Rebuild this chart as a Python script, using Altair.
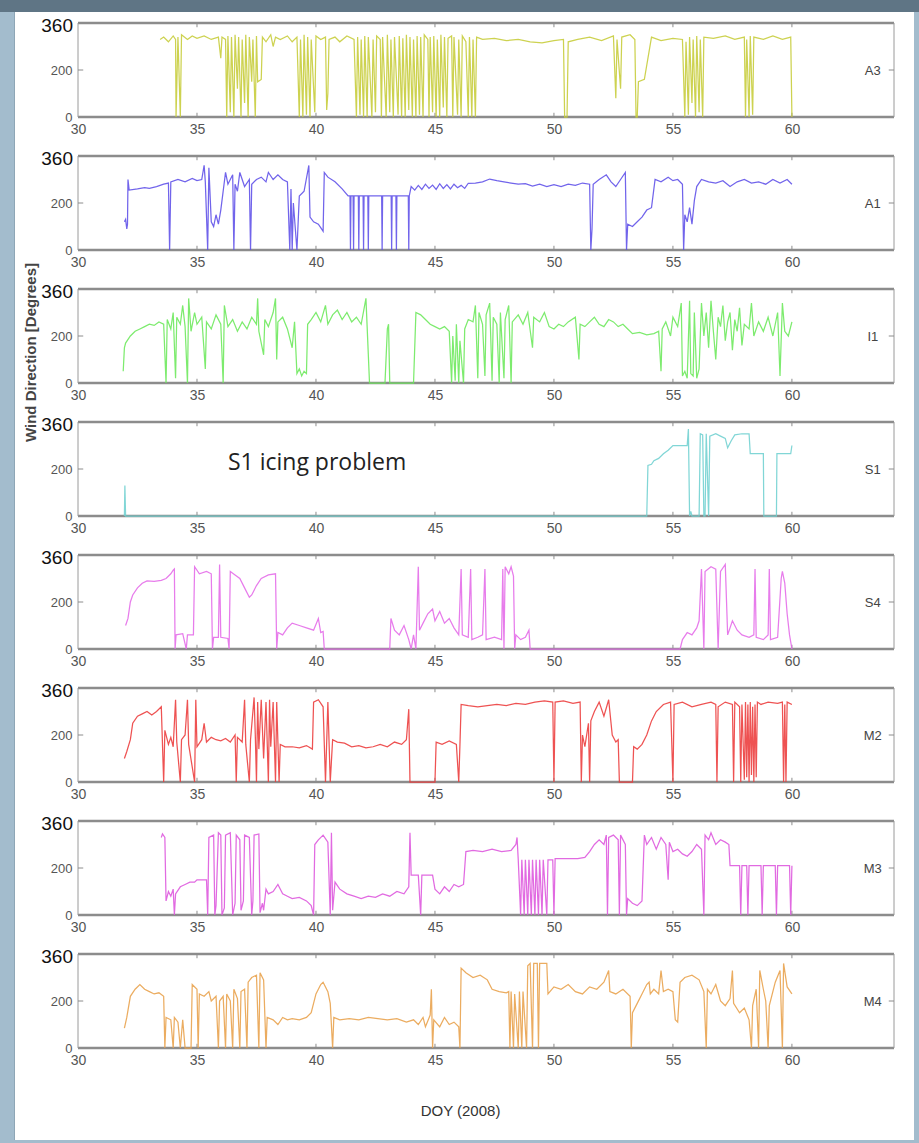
import altair as alt
import pandas as pd

# ---------------- axis values ----------------
X_DOMAIN = [30, 64.29]
Y_DOMAIN = [0, 400]
X_TICKS = [30, 35, 40, 45, 50, 55, 60]
INNER_X_TICKS = [35, 40, 45, 50, 55, 60]
Y_TICKS = [0, 200]
TOP_LABEL = "360"

SERIES_NAMES = ["A3", "A1", "I1", "S1", "S4", "M2", "M3", "M4"]
SERIES_COLORS = ["#c6cc38", "#5d4ee8", "#6be85a", "#6fd0d0",
                 "#e46ae8", "#ec3a3a", "#dd55dd", "#e8a04a"]

# ---------------- series (DOY, wind direction in degrees) ----------------
A3 = [(33.45,330),(33.6,340),(33.8,320),(34.0,345),(34.1,330),(34.12,0),(34.2,340),(34.3,0),(34.35,350),(34.6,330),(34.8,345),(35.0,335),(35.3,345),(35.6,330),(35.9,340),(36.0,250),(36.05,340),(36.2,330),(36.25,0),(36.3,345),(36.4,20),(36.45,340),(36.55,0),(36.6,350),(36.7,120),(36.75,340),(36.85,0),(36.9,330),(37.0,60),(37.05,350),(37.15,0),(37.2,340),(37.3,150),(37.35,330),(37.45,0),(37.5,345),(37.55,150),(37.7,160),(37.75,340),(37.9,320),(38.1,350),(38.2,300),(38.3,340),(38.5,330),(38.8,345),(39.0,320),(39.2,340),(39.3,0),(39.35,330),(39.45,0),(39.5,350),(39.6,10),(39.65,340),(39.75,0),(39.8,330),(39.95,20),(40.0,345),(40.2,330),(40.4,340),(40.45,30),(40.5,100),(40.55,330),(40.8,340),(41.0,320),(41.3,345),(41.6,330),(41.7,0),(41.75,340),(41.85,10),(41.9,330),(42.0,0),(42.05,345),(42.15,0),(42.2,340),(42.35,0),(42.4,330),(42.5,20),(42.55,345),(42.7,330),(42.75,0),(42.8,340),(42.95,0),(43.0,350),(43.1,20),(43.15,330),(43.25,0),(43.3,340),(43.45,10),(43.5,345),(43.6,0),(43.65,335),(43.75,0),(43.8,350),(43.9,30),(43.95,340),(44.05,0),(44.1,330),(44.2,0),(44.25,345),(44.35,10),(44.4,340),(44.5,0),(44.55,350),(44.7,330),(44.75,0),(44.8,340),(44.9,20),(44.95,345),(45.05,0),(45.1,330),(45.2,0),(45.25,350),(45.35,40),(45.4,340),(45.5,0),(45.55,335),(45.7,345),(45.75,0),(45.8,340),(45.95,10),(46.0,330),(46.1,0),(46.15,345),(46.3,320),(46.4,0),(46.45,340),(46.55,0),(46.6,330),(46.7,0),(46.75,340),(47.0,330),(47.5,335),(48.0,325),(48.5,330),(49.0,320),(49.5,315),(50.0,325),(50.4,330),(50.45,0),(50.55,0),(50.6,320),(51.0,330),(51.5,340),(52.0,325),(52.5,345),(52.6,80),(52.65,330),(52.8,120),(52.85,340),(53.2,350),(53.4,330),(53.45,0),(53.5,0),(53.55,150),(53.8,160),(54.1,340),(54.5,325),(55.0,335),(55.4,330),(55.5,0),(55.55,320),(55.65,10),(55.7,340),(55.8,60),(55.85,330),(55.95,0),(56.0,345),(56.1,20),(56.15,330),(56.25,0),(56.3,340),(56.7,335),(57.2,345),(57.6,330),(58.0,340),(58.05,0),(58.1,330),(58.2,0),(58.25,345),(58.35,10),(58.4,340),(58.8,330),(59.2,345),(59.6,330),(59.95,340),(60.0,0)]

A1 = [(31.95,120),(32.0,130),(32.05,90),(32.08,110),(32.1,300),(32.15,255),(32.5,260),(32.8,265),(33.0,262),(33.3,270),(33.6,280),(33.8,285),(33.85,0),(33.9,290),(34.2,300),(34.5,290),(34.8,305),(35.0,295),(35.2,300),(35.3,360),(35.35,290),(35.45,0),(35.5,350),(35.6,120),(35.7,100),(35.8,150),(35.9,110),(36.0,170),(36.1,250),(36.2,330),(36.3,280),(36.4,300),(36.5,320),(36.55,0),(36.6,280),(36.7,250),(36.8,330),(37.0,270),(37.2,300),(37.25,0),(37.3,280),(37.5,300),(37.7,310),(37.9,290),(38.0,330),(38.2,300),(38.4,320),(38.6,300),(38.8,290),(38.9,0),(38.95,260),(39.0,0),(39.05,200),(39.2,0),(39.3,230),(39.5,250),(39.7,360),(39.75,140),(39.9,120),(40.1,110),(40.3,80),(40.35,330),(40.5,310),(40.8,290),(41.1,260),(41.35,230),(41.43,230),(41.45,0),(41.47,230),(41.56,230),(41.58,0),(41.6,230),(41.78,230),(41.8,0),(41.82,230),(41.98,230),(42.0,0),(42.02,230),(42.18,230),(42.2,0),(42.22,230),(42.76,230),(42.78,0),(42.8,230),(43.16,230),(43.18,0),(43.2,230),(43.36,230),(43.38,0),(43.4,230),(43.88,230),(43.9,0),(43.92,230),(44.0,270),(44.15,255),(44.3,275),(44.45,258),(44.6,280),(44.75,262),(44.9,276),(45.05,258),(45.2,282),(45.35,262),(45.5,278),(45.65,260),(45.8,280),(45.95,265),(46.1,275),(46.25,262),(46.4,284),(46.7,285),(47.0,290),(47.3,302),(47.6,295),(47.9,290),(48.2,285),(48.5,280),(48.8,282),(49.1,272),(49.4,280),(49.7,270),(50.0,278),(50.3,270),(50.6,280),(50.9,275),(51.2,285),(51.5,280),(51.55,0),(51.6,90),(51.65,280),(51.9,300),(52.2,320),(52.4,290),(52.6,270),(52.8,300),(53.0,330),(53.05,0),(53.1,110),(53.3,100),(53.5,120),(53.7,140),(53.9,170),(54.1,180),(54.25,300),(54.5,290),(54.8,310),(55.0,295),(55.2,300),(55.4,280),(55.45,0),(55.5,150),(55.6,120),(55.7,180),(55.8,110),(55.9,210),(56.0,270),(56.2,300),(56.5,290),(56.8,285),(57.1,295),(57.4,270),(57.7,290),(58.0,300),(58.3,285),(58.6,290),(58.9,280),(59.2,300),(59.5,285),(59.8,300),(60.0,280)]

I1 = [(31.9,50),(31.95,150),(32.0,170),(32.2,200),(32.4,220),(32.6,230),(32.8,240),(33.0,250),(33.2,245),(33.4,260),(33.6,250),(33.7,0),(33.75,270),(33.9,230),(34.0,300),(34.1,20),(34.15,280),(34.3,250),(34.4,330),(34.5,240),(34.6,0),(34.65,360),(34.75,220),(34.9,300),(35.0,250),(35.2,280),(35.35,60),(35.4,260),(35.6,230),(35.8,290),(36.0,250),(36.1,0),(36.15,330),(36.3,240),(36.5,270),(36.7,220),(36.9,260),(37.1,230),(37.3,280),(37.5,250),(37.55,360),(37.6,220),(37.8,120),(37.85,270),(38.0,240),(38.2,300),(38.3,360),(38.35,100),(38.4,260),(38.6,280),(38.8,230),(39.0,150),(39.1,260),(39.2,40),(39.3,60),(39.4,30),(39.5,50),(39.6,40),(39.65,250),(39.8,270),(40.0,300),(40.2,260),(40.4,330),(40.5,250),(40.7,290),(40.9,310),(41.1,270),(41.3,300),(41.5,260),(41.7,280),(41.9,250),(42.1,360),(42.15,240),(42.25,0),(42.4,0),(42.6,0),(42.9,0),(43.0,230),(43.05,250),(43.1,0),(43.3,0),(43.6,0),(43.9,0),(44.1,0),(44.2,300),(44.4,290),(44.6,270),(44.8,250),(45.0,240),(45.2,230),(45.4,240),(45.6,220),(45.7,0),(45.75,200),(45.85,10),(45.9,250),(46.0,0),(46.05,180),(46.2,0),(46.25,230),(46.4,270),(46.6,260),(46.7,330),(46.8,20),(46.85,300),(47.0,250),(47.1,30),(47.15,290),(47.3,340),(47.4,10),(47.45,280),(47.6,250),(47.7,0),(47.75,300),(47.9,20),(47.95,270),(48.1,330),(48.2,0),(48.25,260),(48.5,290),(48.7,250),(48.9,300),(49.1,150),(49.15,280),(49.4,260),(49.6,300),(49.8,240),(50.0,230),(50.2,250),(50.4,240),(50.6,260),(50.9,280),(51.05,100),(51.1,250),(51.3,240),(51.5,260),(51.7,280),(51.9,250),(52.1,240),(52.3,270),(52.5,260),(52.7,240),(52.9,250),(53.1,230),(53.3,210),(53.6,215),(53.9,205),(54.2,210),(54.4,220),(54.5,50),(54.55,230),(54.7,260),(54.9,200),(55.0,280),(55.2,240),(55.35,340),(55.4,30),(55.5,50),(55.6,20),(55.7,350),(55.75,40),(55.85,30),(55.9,300),(56.0,20),(56.1,60),(56.2,340),(56.3,200),(56.4,300),(56.5,150),(56.6,350),(56.7,220),(56.8,100),(56.9,280),(57.0,240),(57.1,330),(57.2,180),(57.3,260),(57.4,300),(57.5,140),(57.6,270),(57.7,220),(57.8,320),(57.9,160),(58.0,250),(58.2,230),(58.3,340),(58.4,200),(58.6,260),(58.8,220),(59.0,280),(59.2,200),(59.4,300),(59.5,30),(59.6,340),(59.7,220),(59.85,200),(60.0,260)]

S1 = [(31.95,0),(31.97,130),(32.0,0),(35.0,0),(40.0,0),(45.0,0),(50.0,0),(53.9,0),(53.95,215),(54.1,220),(54.2,235),(54.4,245),(54.6,265),(54.8,280),(55.0,300),(55.3,300),(55.6,300),(55.65,370),(55.7,0),(55.75,20),(55.8,0),(56.1,0),(56.15,350),(56.25,345),(56.3,0),(56.35,0),(56.4,350),(56.5,0),(56.55,340),(56.8,350),(57.0,340),(57.2,330),(57.3,290),(57.45,320),(57.6,345),(57.9,350),(58.2,350),(58.25,265),(58.8,265),(58.82,0),(59.35,0),(59.37,265),(59.95,265),(60.0,300)]

S4 = [(32.0,100),(32.1,130),(32.2,200),(32.3,230),(32.5,260),(32.7,280),(32.9,290),(33.2,288),(33.5,292),(33.7,300),(33.9,320),(34.0,335),(34.05,340),(34.08,0),(34.12,60),(34.4,65),(34.55,0),(34.6,60),(34.85,60),(34.9,350),(35.1,320),(35.4,330),(35.6,320),(35.65,0),(35.7,50),(35.9,50),(35.95,360),(36.0,50),(36.3,45),(36.35,0),(36.4,330),(36.6,315),(36.8,300),(37.0,260),(37.2,220),(37.3,230),(37.5,270),(37.7,300),(38.0,315),(38.3,320),(38.35,0),(38.4,70),(38.6,60),(38.8,90),(39.0,110),(39.3,100),(39.6,90),(39.9,80),(40.1,130),(40.2,70),(40.3,75),(40.35,0),(41.0,0),(43.1,0),(43.15,130),(43.3,80),(43.5,60),(43.7,100),(43.9,40),(44.0,0),(44.1,60),(44.2,0),(44.3,350),(44.35,80),(44.5,110),(44.7,150),(44.9,170),(45.0,120),(45.2,160),(45.4,110),(45.6,130),(45.8,90),(46.0,60),(46.1,340),(46.15,60),(46.4,50),(46.5,340),(46.55,40),(46.8,50),(47.0,60),(47.1,340),(47.15,40),(47.5,50),(47.8,40),(47.85,340),(47.9,0),(47.95,350),(48.1,320),(48.2,350),(48.3,310),(48.35,0),(48.4,60),(48.6,40),(48.8,50),(48.95,80),(49.0,0),(50.0,0),(55.3,0),(55.4,40),(55.6,70),(55.8,60),(56.0,90),(56.1,120),(56.2,340),(56.3,0),(56.35,330),(56.6,350),(56.8,340),(56.9,0),(57.0,330),(57.2,360),(57.3,60),(57.5,120),(57.7,80),(57.9,60),(58.2,50),(58.4,60),(58.45,340),(58.5,50),(58.8,40),(59.0,60),(59.05,340),(59.1,40),(59.4,50),(59.55,300),(59.6,330),(59.7,280),(59.8,150),(59.9,60),(60.0,0)]

M2 = [(31.95,100),(32.05,130),(32.2,180),(32.3,250),(32.5,280),(32.7,290),(32.9,300),(33.1,285),(33.3,300),(33.5,320),(33.6,0),(33.65,220),(33.8,160),(33.9,190),(34.0,150),(34.1,350),(34.15,170),(34.3,0),(34.35,180),(34.5,200),(34.6,350),(34.65,160),(34.9,0),(34.95,350),(35.0,150),(35.2,180),(35.3,250),(35.4,170),(35.6,190),(35.8,180),(36.0,175),(36.2,185),(36.4,170),(36.6,200),(36.65,0),(36.7,190),(36.9,170),(37.0,350),(37.05,160),(37.2,0),(37.25,180),(37.4,360),(37.45,200),(37.5,0),(37.55,340),(37.6,140),(37.7,350),(37.8,100),(37.9,340),(38.0,0),(38.05,350),(38.1,150),(38.2,340),(38.3,0),(38.35,340),(38.45,0),(38.5,160),(38.7,150),(39.0,150),(39.3,145),(39.6,155),(39.85,140),(39.9,340),(40.1,350),(40.3,320),(40.4,0),(40.5,340),(40.6,0),(40.7,180),(40.9,170),(41.2,165),(41.5,150),(41.8,155),(42.1,145),(42.4,150),(42.7,160),(43.0,150),(43.3,170),(43.6,160),(43.8,180),(43.9,310),(43.95,0),(44.0,0),(44.5,0),(45.0,0),(45.05,170),(45.3,160),(45.6,175),(45.9,160),(46.0,0),(46.05,160),(46.1,330),(46.4,325),(46.8,320),(47.2,325),(47.6,330),(48.0,325),(48.4,335),(48.8,330),(49.2,340),(49.6,345),(49.95,340),(50.0,0),(50.05,340),(50.4,345),(50.8,335),(51.1,340),(51.15,0),(51.2,200),(51.3,150),(51.45,250),(51.5,0),(51.55,260),(51.7,300),(51.9,340),(52.1,280),(52.3,350),(52.45,200),(52.6,170),(52.7,180),(52.75,0),(53.0,0),(53.3,0),(53.35,150),(53.5,140),(53.7,160),(53.9,200),(54.1,260),(54.3,300),(54.6,330),(54.9,340),(55.0,0),(55.05,330),(55.4,340),(55.8,320),(56.2,330),(56.6,340),(56.8,330),(56.85,0),(56.9,320),(57.2,340),(57.5,330),(57.55,0),(57.6,340),(57.8,320),(57.85,0),(57.9,330),(58.0,10),(58.05,340),(58.1,20),(58.15,330),(58.2,0),(58.25,340),(58.3,30),(58.35,320),(58.4,0),(58.45,330),(58.5,20),(58.55,340),(58.7,330),(59.0,340),(59.4,335),(59.6,340),(59.65,0),(59.7,330),(59.75,0),(59.8,340),(60.0,330)]

M3 = [(33.5,330),(33.55,345),(33.65,330),(33.7,60),(33.8,100),(33.9,80),(34.0,110),(34.05,0),(34.1,90),(34.3,120),(34.5,130),(34.7,140),(34.9,140),(35.0,150),(35.4,150),(35.45,0),(35.5,330),(35.7,340),(35.75,0),(35.8,40),(35.9,350),(36.0,340),(36.05,0),(36.15,30),(36.2,340),(36.4,350),(36.5,0),(36.6,50),(36.65,340),(36.8,320),(36.85,20),(36.95,60),(37.0,340),(37.2,330),(37.3,0),(37.35,60),(37.4,340),(37.6,345),(37.65,10),(37.75,50),(37.8,20),(37.9,110),(38.0,90),(38.2,100),(38.4,130),(38.6,90),(38.8,80),(39.0,70),(39.3,75),(39.6,60),(39.8,40),(39.9,0),(39.95,300),(40.1,320),(40.3,340),(40.5,310),(40.6,0),(40.65,350),(40.7,20),(40.8,140),(41.0,110),(41.3,90),(41.6,80),(41.9,70),(42.2,80),(42.5,75),(42.8,90),(43.1,80),(43.4,100),(43.7,90),(43.9,120),(43.95,350),(44.0,170),(44.3,170),(44.4,0),(44.45,170),(44.9,170),(45.0,110),(45.2,90),(45.4,120),(45.6,100),(45.8,130),(46.0,120),(46.2,130),(46.3,270),(46.6,275),(47.0,270),(47.4,280),(47.8,270),(48.2,275),(48.4,300),(48.45,330),(48.5,235),(48.6,0),(48.65,235),(48.75,0),(48.8,235),(48.9,0),(48.95,235),(49.05,0),(49.1,235),(49.2,0),(49.25,235),(49.35,0),(49.4,235),(49.5,0),(49.55,235),(49.7,0),(49.75,235),(49.95,235),(50.0,0),(50.05,240),(50.5,240),(51.0,240),(51.3,245),(51.5,270),(51.7,300),(51.9,320),(52.1,300),(52.2,340),(52.25,0),(52.3,330),(52.5,340),(52.7,320),(52.75,0),(52.8,340),(53.0,300),(53.05,0),(53.1,70),(53.3,50),(53.5,40),(53.7,60),(53.8,340),(53.9,300),(54.1,330),(54.3,280),(54.5,330),(54.7,300),(54.8,150),(54.85,310),(55.0,270),(55.2,280),(55.4,260),(55.6,250),(55.8,270),(56.0,300),(56.2,280),(56.3,0),(56.35,340),(56.5,320),(56.6,350),(56.8,300),(57.0,320),(57.2,310),(57.35,300),(57.4,210),(57.8,210),(57.85,0),(57.9,210),(58.1,210),(58.15,0),(58.2,210),(58.7,210),(58.75,0),(58.8,210),(59.3,210),(59.35,0),(59.4,210),(59.9,210),(59.95,0),(60.0,210)]

M4 = [(31.95,85),(32.05,130),(32.2,220),(32.4,250),(32.6,270),(32.8,250),(33.0,240),(33.2,230),(33.4,235),(33.6,220),(33.65,0),(33.7,130),(33.9,120),(34.0,0),(34.05,130),(34.2,110),(34.3,0),(34.4,120),(34.5,0),(34.75,0),(34.8,270),(35.0,250),(35.05,0),(35.1,230),(35.3,220),(35.5,240),(35.6,200),(35.8,220),(35.9,0),(35.95,200),(36.1,220),(36.2,0),(36.25,230),(36.4,200),(36.5,0),(36.55,250),(36.7,210),(36.8,0),(36.85,240),(37.0,250),(37.1,0),(37.15,280),(37.3,300),(37.5,310),(37.6,0),(37.65,320),(37.8,290),(37.9,0),(37.95,130),(38.2,120),(38.4,100),(38.6,130),(38.8,120),(39.0,125),(39.3,120),(39.6,130),(39.8,150),(40.0,230),(40.2,270),(40.3,280),(40.5,240),(40.6,190),(40.7,0),(40.75,130),(41.0,120),(41.4,125),(41.8,120),(42.2,130),(42.6,125),(43.0,120),(43.4,125),(43.8,110),(44.1,120),(44.3,100),(44.5,130),(44.6,90),(44.8,140),(44.85,250),(44.9,0),(44.95,120),(45.2,90),(45.4,130),(45.6,100),(45.8,110),(46.0,90),(46.05,0),(46.1,340),(46.3,320),(46.6,300),(46.9,310),(47.2,290),(47.4,250),(47.7,240),(48.0,235),(48.1,240),(48.15,0),(48.2,240),(48.3,0),(48.35,230),(48.5,0),(48.55,240),(48.65,0),(48.7,240),(48.85,0),(48.9,350),(49.0,360),(49.1,0),(49.15,360),(49.3,360),(49.35,0),(49.4,360),(49.7,360),(49.75,230),(50.0,260),(50.3,250),(50.6,270),(50.9,240),(51.2,230),(51.5,260),(51.8,250),(52.1,280),(52.3,330),(52.35,240),(52.6,230),(52.9,250),(53.2,220),(53.25,0),(53.3,150),(53.5,190),(53.7,230),(53.9,270),(54.0,280),(54.05,230),(54.2,250),(54.4,230),(54.5,330),(54.6,240),(54.8,250),(55.0,240),(55.1,120),(55.2,110),(55.3,280),(55.5,300),(55.8,310),(56.1,290),(56.3,240),(56.4,0),(56.45,250),(56.6,230),(56.8,270),(57.0,200),(57.2,180),(57.4,210),(57.5,330),(57.55,190),(57.8,150),(58.0,170),(58.2,120),(58.3,0),(58.35,180),(58.5,250),(58.6,0),(58.65,330),(58.8,250),(58.9,200),(59.0,0),(59.05,180),(59.3,280),(59.5,330),(59.6,0),(59.65,360),(59.8,260),(60.0,230)]

SERIES = [A3, A1, I1, S1, S4, M2, M3, M4]

NOTE_TEXT = "S1 icing problem"
NOTE_POS = (36.3, 225)
LABEL_POS = (63.4, 195)

# ---------------- layout / style constants ----------------
PANEL_W = 816
PANEL_H = 94
GAP = 39
TICK_LEN_Y = 18      # inner tick length in degree units
TICK_LEN_X = 0.22    # inner tick length in DOY units
FONT = "Liberation Sans"
EDGE_BLUE = "#a3bccd"
TOP_STRIP = "#5f7585"

xs = alt.Scale(domain=X_DOMAIN, nice=False, zero=False)
ys = alt.Scale(domain=Y_DOMAIN, nice=False, zero=False)


def panel(i, name, pts, color):
    first = i == 0
    last = i == len(SERIES) - 1
    df = pd.DataFrame(pts, columns=["doy", "deg"])

    x_kw = dict(values=X_TICKS, labelFlush=False, ticks=False, domain=False, grid=False,
                labelFontSize=14, labelColor="#555", labelFont=FONT, labelPadding=5)
    if last:
        x_kw.update(title="DOY (2008)", titleFont=FONT, titleFontSize=15,
                    titleFontWeight="normal", titleColor="#333", titlePadding=36, titleX=382)
    else:
        x_kw.update(title=None)

    y_kw = dict(values=Y_TICKS, labelFontSize=13, labelColor="#555",
                labelFont=FONT, ticks=False, domain=False, grid=False, labelPadding=6)
    if i == 2:
        y_kw.update(title="Wind Direction [Degrees]", titleFont=FONT, titleFontSize=15,
                    titleFontWeight="bold", titleColor="#444", titlePadding=12, titleY=63)
    else:
        y_kw.update(title=None)

    one = pd.DataFrame({"doy": [X_DOMAIN[0]]})
    band_top = -23 if first else -10
    band_bot = 190 if last else PANEL_H + GAP - 10
    layers = []

    line = alt.Chart(df).mark_line(color=color, strokeWidth=1.25, opacity=0.88).encode(
        x=alt.X("doy:Q", scale=xs, axis=alt.Axis(**x_kw)),
        y=alt.Y("deg:Q", scale=ys, axis=alt.Axis(**y_kw)))

    # slide edges (left and right)
    layers += [
        alt.Chart(one).mark_rect(color=EDGE_BLUE).encode(
            x=alt.value(-78), x2=alt.value(-64), y=alt.value(band_top), y2=alt.value(band_bot)),
        alt.Chart(one).mark_rect(color="#8ea6b6").encode(
            x=alt.value(-64), x2=alt.value(-63), y=alt.value(band_top), y2=alt.value(band_bot)),
        alt.Chart(one).mark_rect(color=EDGE_BLUE).encode(
            x=alt.value(836), x2=alt.value(841), y=alt.value(band_top), y2=alt.value(band_bot)),
    ]
    if first:
        layers.append(alt.Chart(one).mark_rect(color=TOP_STRIP).encode(
            x=alt.value(-78), x2=alt.value(841), y=alt.value(-23), y2=alt.value(-11)))
    if last:
        layers.append(alt.Chart(one).mark_rect(color=EDGE_BLUE).encode(
            x=alt.value(-78), x2=alt.value(841), y=alt.value(186), y2=alt.value(190)))

    hframe = alt.Chart(pd.DataFrame({"deg": Y_DOMAIN})).mark_rule(
        color="#8c8c8c", strokeWidth=2.5).encode(y=alt.Y("deg:Q", scale=ys))
    vframe = alt.Chart(pd.DataFrame({"doy": X_DOMAIN})).mark_rule(
        color="#9a9a9a", strokeWidth=1).encode(x=alt.X("doy:Q", scale=xs))
    n = len(INNER_X_TICKS)
    xt = pd.DataFrame({"doy": INNER_X_TICKS * 2,
                       "deg": [Y_DOMAIN[0]] * n + [Y_DOMAIN[1] - TICK_LEN_Y] * n,
                       "deg2": [Y_DOMAIN[0] + TICK_LEN_Y] * n + [Y_DOMAIN[1]] * n})
    xticks = alt.Chart(xt).mark_rule(color="#8c8c8c", strokeWidth=1).encode(
        x=alt.X("doy:Q", scale=xs), y=alt.Y("deg:Q", scale=ys), y2="deg2:Q")
    yt = pd.DataFrame({"doy": [X_DOMAIN[0], X_DOMAIN[1] - TICK_LEN_X],
                       "doy2": [X_DOMAIN[0] + TICK_LEN_X, X_DOMAIN[1]],
                       "deg": [200, 200]})
    yticks = alt.Chart(yt).mark_rule(color="#8c8c8c", strokeWidth=1).encode(
        x=alt.X("doy:Q", scale=xs), x2="doy2:Q", y=alt.Y("deg:Q", scale=ys))
    layers += [hframe, vframe, xticks, yticks, line]

    # "360" label at the top-left corner of each panel
    top = alt.Chart(pd.DataFrame({"doy": [X_DOMAIN[0]], "deg": [Y_DOMAIN[1]], "t": [TOP_LABEL]})).mark_text(
        font=FONT, fontSize=19, color="#111", align="right", baseline="middle", dx=-5, dy=3).encode(
        x=alt.X("doy:Q", scale=xs), y=alt.Y("deg:Q", scale=ys), text="t:N")
    layers.append(top)

    lab = alt.Chart(pd.DataFrame({"doy": [LABEL_POS[0]], "deg": [LABEL_POS[1]], "t": [name]})).mark_text(
        font=FONT, fontSize=13, color="#444").encode(
        x=alt.X("doy:Q", scale=xs), y=alt.Y("deg:Q", scale=ys), text="t:N")
    layers.append(lab)

    if name == "S1":
        note = alt.Chart(pd.DataFrame({"doy": [NOTE_POS[0]], "deg": [NOTE_POS[1]], "t": [NOTE_TEXT]})).mark_text(
            font="Open Sans", fontSize=23, color="#222", align="left").encode(
            x=alt.X("doy:Q", scale=xs), y=alt.Y("deg:Q", scale=ys), text="t:N")
        layers.append(note)

    return alt.layer(*layers).properties(width=PANEL_W, height=PANEL_H)


panels = [panel(i, n, s, c) for i, (n, s, c) in enumerate(zip(SERIES_NAMES, SERIES, SERIES_COLORS))]

chart = alt.vconcat(*panels, spacing=GAP, bounds="flush").properties(
    background="white",
    padding={"left": 0, "top": 0, "right": 0, "bottom": 0},
).configure_view(strokeWidth=0)

chart.save("out.html", embed_options={"renderer": "svg", "actions": False})
